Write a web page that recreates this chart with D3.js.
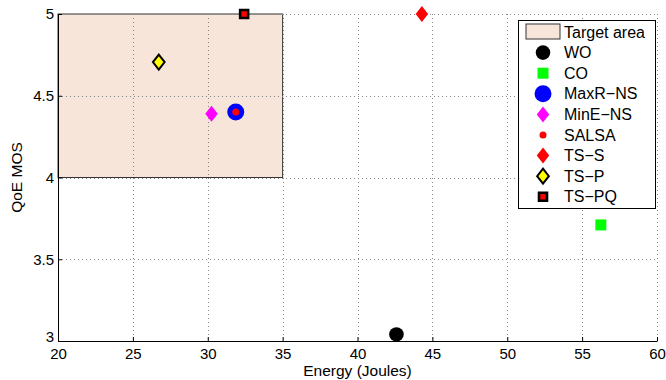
<!DOCTYPE html>
<html>
<head>
<meta charset="utf-8">
<script src="https://cdn.jsdelivr.net/npm/d3@7"></script>
<style>
  body { margin: 0; background: #fff; }
  text { font-family: "Liberation Sans", Arial, sans-serif; fill: #000; }
</style>
</head>
<body>
<div id="chart"></div>
<script>
// data
var seriesNames = ["WO", "CO", "MaxR-NS", "MinE-NS", "SALSA", "TS-S", "TS-P", "TS-PQ"];
var energy = [42.6, 56.25, 31.87, 30.25, 31.87, 44.3, 26.73, 32.43];
var qoe = [3.04, 3.71, 4.40, 4.39, 4.40, 5.0, 4.706, 5.0];

var targetEnergy = [20, 35];
var targetQoe = [4, 5];

var xTicks = [20, 25, 30, 35, 40, 45, 50, 55, 60];
var yTicks = [3, 3.5, 4, 4.5, 5];

var W = 666, H = 380;
var margin = { top: 14, right: 9, bottom: 39, left: 58 },
    width = W - margin.left - margin.right,
    height = H - margin.top - margin.bottom;

// marker look for each series (by name)
var markerStyle = {
    "WO":      { shape: "circle",  r: 7.3, fill: "#000", stroke: "none" },
    "CO":      { shape: "square",  r: 5.5, fill: "#00ff00", stroke: "none" },
    "MaxR-NS": { shape: "circle",  r: 8.5, fill: "#0000ff", stroke: "none" },
    "MinE-NS": { shape: "diamond", r: 8, fill: "#ff00ff", stroke: "none" },
    "SALSA":   { shape: "circle",  r: 3.5, fill: "#ff0000", stroke: "none" },
    "TS-S":    { shape: "diamond", r: 8, fill: "#ff0000", stroke: "none" },
    "TS-P":    { shape: "diamond", r: 7.5, fill: "#ffff00", stroke: "#000", sw: 2 },
    "TS-PQ":   { shape: "square",  r: 4, fill: "#ff0000", stroke: "#000", sw: 2.6 }
};

function markerPath(shape, r) {
    if (shape == "circle") {
        var p = d3.path();
        p.arc(0, 0, r, 0, 2 * Math.PI);
        return p.toString();
    } else if (shape == "square") {
        return "M" + (-r) + "," + (-r) + "H" + r + "V" + r + "H" + (-r) + "Z";
    } else {
        var w = r * 0.78;
        return "M0," + (-r) + "L" + w + ",0L0," + r + "L" + (-w) + ",0Z";
    }
}

var svg = d3.select("#chart").append("svg")
    .attr("width", W)
    .attr("height", H);

var g = svg.append("g")
    .attr("transform", "translate(" + margin.left + "," + margin.top + ")");

var x = d3.scaleLinear().domain([20, 60]).range([0, width]);
var y = d3.scaleLinear().domain([3, 5]).range([height, 0]);

// target area
g.append("rect")
    .attr("x", x(targetEnergy[0]))
    .attr("y", y(targetQoe[1]))
    .attr("width", x(targetEnergy[1]) - x(targetEnergy[0]))
    .attr("height", y(targetQoe[0]) - y(targetQoe[1]))
    .attr("fill", "#f8e5da")
    .attr("stroke", "#333")
    .attr("stroke-width", 1);

// dotted grid
g.append("g").selectAll("line")
    .data(xTicks.slice(1))
    .enter().append("line")
    .attr("x1", function(d) { return Math.round(x(d)) + 0.5; })
    .attr("x2", function(d) { return Math.round(x(d)) + 0.5; })
    .attr("y1", 0)
    .attr("y2", height)
    .attr("stroke", "#888")
    .attr("stroke-dasharray", "1,3");

g.append("g").selectAll("line")
    .data(yTicks.slice(1))
    .enter().append("line")
    .attr("y1", function(d) { return Math.round(y(d)) + 0.5; })
    .attr("y2", function(d) { return Math.round(y(d)) + 0.5; })
    .attr("x1", 0)
    .attr("x2", width)
    .attr("stroke", "#888")
    .attr("stroke-dasharray", "1,3");

// axes (inward ticks, like matlab)
var xAxis = d3.axisBottom(x).tickValues(xTicks).tickSizeInner(-4).tickSizeOuter(0);
var yAxis = d3.axisLeft(y).tickValues(yTicks).tickSizeInner(-4).tickSizeOuter(0)
    .tickFormat(d3.format("~g"));

var gx = g.append("g")
    .attr("transform", "translate(0," + height + ")")
    .call(xAxis);
var gy = g.append("g").call(yAxis);

[gx, gy].forEach(function(a) {
    a.selectAll("path, line").attr("stroke", "#000");
    a.selectAll("text").style("font-size", "15px").style("font-family", '"Liberation Sans", Arial, sans-serif');
});
gx.selectAll("text").attr("dy", null).attr("y", 18);
gy.selectAll("text").attr("x", -4)
    .attr("y", function(d) { return d == 3 ? -4 : 0; }); // bottom label sits a bit higher, as in matlab

// axis labels
svg.append("text")
    .attr("x", margin.left + width / 2)
    .attr("y", 376)
    .attr("text-anchor", "middle")
    .style("font-size", "15.5px")
    .text("Energy (Joules)");

svg.append("text")
    .attr("transform", "translate(22," + (margin.top + height / 2) + ") rotate(-90)")
    .attr("text-anchor", "middle")
    .style("font-size", "15.5px")
    .text("QoE MOS");

// points
var pts = seriesNames.map(function(name, i) {
    return { name: name, e: energy[i], q: qoe[i] };
});

g.append("g").selectAll("path")
    .data(pts)
    .enter().append("path")
    .attr("transform", function(d) { return "translate(" + x(d.e) + "," + y(d.q) + ")"; })
    .attr("d", function(d) { var s = markerStyle[d.name]; return markerPath(s.shape, s.r); })
    .attr("fill", function(d) { return markerStyle[d.name].fill; })
    .attr("stroke", function(d) { return markerStyle[d.name].stroke; })
    .attr("stroke-width", function(d) { return markerStyle[d.name].sw || 0; });

// legend
var legend = svg.append("g").attr("transform", "translate(518,20)");
legend.append("rect")
    .attr("x", 0.5).attr("y", 0.5)
    .attr("width", 137).attr("height", 188)
    .attr("fill", "#fff")
    .attr("stroke", "#000");

var rowY = function(i) { return 12 + i * 20.6; };

legend.append("rect")
    .attr("x", 8).attr("y", 4)
    .attr("width", 34).attr("height", 15)
    .attr("fill", "#f8e5da")
    .attr("stroke", "#333");
legend.append("text")
    .attr("x", 46).attr("y", rowY(0))
    .attr("dy", "0.35em")
    .style("font-size", "16px")
    .text("Target area");

var rows = legend.selectAll(".row")
    .data(pts)
    .enter().append("g")
    .attr("class", "row")
    .attr("transform", function(d, i) { return "translate(0," + rowY(i + 1) + ")"; });

rows.append("path")
    .attr("transform", "translate(25,0)")
    .attr("d", function(d) { var s = markerStyle[d.name]; return markerPath(s.shape, s.r); })
    .attr("fill", function(d) { return markerStyle[d.name].fill; })
    .attr("stroke", function(d) { return markerStyle[d.name].stroke; })
    .attr("stroke-width", function(d) { return markerStyle[d.name].sw || 0; });

rows.append("text")
    .attr("x", 46)
    .attr("dy", "0.35em")
    .style("font-size", "16px")
    .text(function(d) { return d.name.replace("-", "\u2212"); });
</script>
</body>
</html>
